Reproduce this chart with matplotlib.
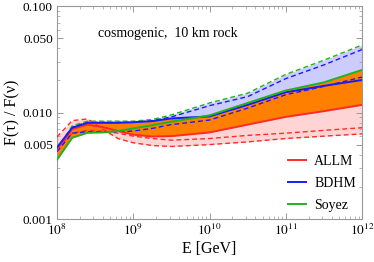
import numpy as np
import matplotlib
matplotlib.use("Agg")
import matplotlib.pyplot as plt
from matplotlib.ticker import NullFormatter, LogLocator

plt.rcParams['font.family'] = ['Liberation Serif', 'DejaVu Serif']
plt.rcParams['mathtext.fontset'] = 'stix'

logE = [8.0, 8.2, 8.4, 8.6, 8.8, 9.0, 9.25, 9.5, 10.0, 10.5, 11.0, 11.5, 12.0]

allm_central = [0.0045, 0.0070, 0.0077, 0.0073, 0.0067, 0.0062, 0.00595, 0.0060, 0.0065, 0.0077, 0.0091, 0.0103, 0.0118]
allm_dash_a  = [0.0059, 0.0084, 0.0087, 0.0070, 0.0057, 0.0052, 0.0049, 0.0048, 0.0050, 0.0053, 0.0057, 0.0060, 0.0063]
allm_dash_b  = [0.0046, 0.0064, 0.0068, 0.0067, 0.0064, 0.0060, 0.0057, 0.0055, 0.0057, 0.0061, 0.0064, 0.0068, 0.0072]

bdhm_central = [0.0047, 0.0072, 0.0080, 0.0080, 0.0080, 0.0081, 0.0083, 0.0088, 0.0092, 0.0118, 0.0155, 0.0178, 0.0202]
bdhm_dash_up = [0.0046, 0.0073, 0.0081, 0.0081, 0.0081, 0.0081, 0.0084, 0.0091, 0.0116, 0.0141, 0.0208, 0.0280, 0.0390]
bdhm_dash_lo = [0.0043, 0.0064, 0.0066, 0.0066, 0.0066, 0.0067, 0.0071, 0.0077, 0.0085, 0.0110, 0.0147, 0.0176, 0.0215]

soyez_central = [0.0036, 0.0058, 0.00645, 0.0065, 0.0067, 0.0071, 0.0076, 0.0082, 0.0094, 0.0123, 0.0161, 0.0192, 0.0251]
soyez_dash_up = [0.0045, 0.0075, 0.0083, 0.0083, 0.0083, 0.0083, 0.0086, 0.0095, 0.0123, 0.0152, 0.0228, 0.0310, 0.0430]

legend_labels = ["ALLM", "BDHM", "Soyez"]
ytick_vals = [0.001, 0.005, 0.010, 0.050, 0.100]
ytick_labels = ["0.001", "0.005", "0.010", "0.050", "0.100"]
xtick_exps = [8, 9, 10, 11, 12]

E = 10.0 ** np.array(logE)
red = '#ff2a2a'
blue = '#1a1aff'
green = '#1fb31f'

fig = plt.figure(figsize=(3.74, 2.62), dpi=100)
ax = fig.add_axes([0.1524, 0.164, 0.8156, 0.813])
ax.set_xscale('log')
ax.set_yscale('log')

a1, a2, a3 = np.array(allm_central), np.array(allm_dash_a), np.array(allm_dash_b)
pink_hi = np.maximum.reduce([a1, a2, a3])
pink_lo = np.minimum.reduce([a1, a2, a3])
ax.fill_between(E, pink_lo, pink_hi, color='#ffd4d4', lw=0, zorder=1)

b_hi = np.maximum(np.array(bdhm_dash_up), np.array(soyez_dash_up))
b_lo = np.minimum(np.array(bdhm_dash_lo), np.array(bdhm_central))
ax.fill_between(E, b_lo, b_hi, color='#ccccff', lw=0, zorder=1)

sols = np.array([allm_central, bdhm_central, soyez_central])
ax.fill_between(E, sols.min(axis=0), sols.max(axis=0), color='#ff8000', lw=0, zorder=2)

dash = (0, (3.5, 2.2))
ax.plot(E, allm_dash_a, color=red, lw=1.0, ls=dash, zorder=3)
ax.plot(E, allm_dash_b, color=red, lw=1.0, ls=dash, zorder=3)
ax.plot(E, bdhm_dash_up, color=blue, lw=1.0, ls=dash, zorder=3)
ax.plot(E, bdhm_dash_lo, color=blue, lw=1.0, ls=dash, zorder=3)
ax.plot(E, soyez_dash_up, color=green, lw=1.0, ls=dash, zorder=3)
l1, = ax.plot(E, allm_central, color=red, lw=1.4, zorder=4)
l2, = ax.plot(E, bdhm_central, color=blue, lw=1.4, zorder=4)
l3, = ax.plot(E, soyez_central, color=green, lw=1.4, zorder=4)

ax.set_xlim(1e8, 1e12)
ax.set_ylim(0.001, 0.1)
ax.set_xticks([10.0 ** k for k in xtick_exps])
ax.set_xticklabels([r'$10^{%d}$' % k for k in xtick_exps])
ax.set_yticks(ytick_vals)
ax.set_yticklabels(ytick_labels)
ax.xaxis.set_minor_locator(LogLocator(base=10, subs=np.arange(2, 10), numticks=20))
ax.yaxis.set_minor_locator(LogLocator(base=10, subs=np.arange(2, 10), numticks=20))
ax.xaxis.set_minor_formatter(NullFormatter())
ax.yaxis.set_minor_formatter(NullFormatter())

for s in ax.spines.values():
    s.set_color('#999999')
    s.set_linewidth(0.8)
ax.tick_params(which='both', direction='in', top=True, right=True, color='#999999',
               labelsize=9.5, pad=3)
ax.tick_params(which='major', length=4, width=0.7)
ax.tick_params(which='minor', length=2, width=0.5)

ax.set_xlabel('E [GeV]', fontsize=11.5, labelpad=2)
ax.set_ylabel('F(τ) / F(ν)', fontsize=11.5, labelpad=2)

ax.text(0.135, 0.87, 'cosmogenic,  10 km rock', transform=ax.transAxes, fontsize=10,
        ha='left', va='center')

leg = ax.legend([l1, l2, l3], legend_labels, loc='lower right', frameon=False,
                fontsize=10, handlelength=1.3, labelspacing=0.62, handletextpad=0.6,
                borderaxespad=0.6, bbox_to_anchor=(1.026, -0.03))

fig.savefig('out.png', dpi=100)
